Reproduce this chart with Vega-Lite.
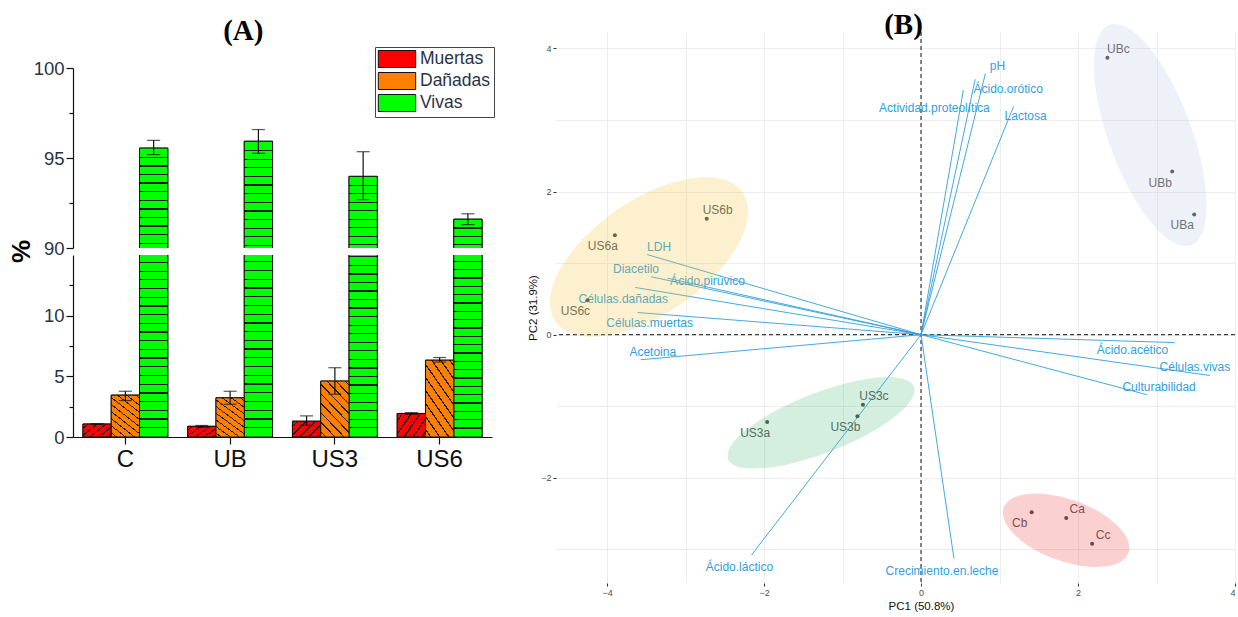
{
  "$schema": "https://vega.github.io/schema/vega-lite/v6.json",
  "padding": {"left": 8, "top": 10, "right": 0, "bottom": 0},
  "background": "white",
  "config": {"view": {"stroke": null}, "font": "Liberation Sans"},
  "spacing": 32,
  "resolve": {"scale": {"color": "independent"}},
  "datasets": {
    "celulas": [
      {"grupo": "C", "tipo": "Muertas", "valor": 1.07, "lo": 1.03, "hi": 1.1},
      {"grupo": "C", "tipo": "Dañadas", "valor": 3.45, "lo": 3.0, "hi": 3.77},
      {"grupo": "C", "tipo": "Vivas", "valor": 95.55, "lo": 95.19, "hi": 95.98},
      {"grupo": "UB", "tipo": "Muertas", "valor": 0.88, "lo": 0.8, "hi": 0.95},
      {"grupo": "UB", "tipo": "Dañadas", "valor": 3.23, "lo": 2.7, "hi": 3.77},
      {"grupo": "UB", "tipo": "Vivas", "valor": 95.93, "lo": 95.26, "hi": 96.58},
      {"grupo": "US3", "tipo": "Muertas", "valor": 1.3, "lo": 0.97, "hi": 1.74},
      {"grupo": "US3", "tipo": "Dañadas", "valor": 4.61, "lo": 3.53, "hi": 5.71},
      {"grupo": "US3", "tipo": "Vivas", "valor": 93.98, "lo": 92.69, "hi": 95.35},
      {"grupo": "US6", "tipo": "Muertas", "valor": 1.94, "lo": 1.87, "hi": 2.01},
      {"grupo": "US6", "tipo": "Dañadas", "valor": 6.33, "lo": 6.18, "hi": 6.55},
      {"grupo": "US6", "tipo": "Vivas", "valor": 91.6, "lo": 91.3, "hi": 91.9}
    ],
    "individuos": [
      {"nombre": "US6a", "grupo": "US6", "x": -3.90, "y": 1.39},
      {"nombre": "US6b", "grupo": "US6", "x": -2.73, "y": 1.62},
      {"nombre": "US6c", "grupo": "US6", "x": -4.25, "y": 0.48},
      {"nombre": "UBa", "grupo": "UB", "x": 3.48, "y": 1.68},
      {"nombre": "UBb", "grupo": "UB", "x": 3.20, "y": 2.28},
      {"nombre": "UBc", "grupo": "UB", "x": 2.375, "y": 3.87},
      {"nombre": "US3a", "grupo": "US3", "x": -1.96, "y": -1.22},
      {"nombre": "US3b", "grupo": "US3", "x": -0.81, "y": -1.14},
      {"nombre": "US3c", "grupo": "US3", "x": -0.74, "y": -0.98},
      {"nombre": "Ca", "grupo": "C", "x": 1.85, "y": -2.56},
      {"nombre": "Cb", "grupo": "C", "x": 1.41, "y": -2.48},
      {"nombre": "Cc", "grupo": "C", "x": 2.18, "y": -2.92}
    ],
    "variables": [
      {"nombre": "LDH", "x": -3.49, "y": 1.12},
      {"nombre": "Diacetilo", "x": -3.44, "y": 0.81},
      {"nombre": "Ácido.pirúvico", "x": -3.23, "y": 0.79},
      {"nombre": "Células.dañadas", "x": -3.64, "y": 0.66},
      {"nombre": "Células.muertas", "x": -3.61, "y": 0.31},
      {"nombre": "Acetoina", "x": -3.57, "y": -0.35},
      {"nombre": "Ácido.láctico", "x": -2.16, "y": -3.08},
      {"nombre": "Crecimiento.en.leche", "x": 0.42, "y": -3.13},
      {"nombre": "Ácido.acético", "x": 3.23, "y": -0.11},
      {"nombre": "Células.vivas", "x": 3.68, "y": -0.57},
      {"nombre": "Culturabilidad", "x": 2.88, "y": -0.84},
      {"nombre": "pH", "x": 0.82, "y": 3.65},
      {"nombre": "Ácido.orótico", "x": 0.69, "y": 3.57},
      {"nombre": "Actividad.proteolítica", "x": 0.54, "y": 3.42},
      {"nombre": "Lactosa", "x": 1.18, "y": 3.19}
    ],
    "elipses": [
      {"grupo": "US6", "x": -2.270, "y": 1.987}, {"grupo": "US6", "x": -2.635, "y": 2.196}, {"grupo": "US6", "x": -3.223, "y": 2.105}, {"grupo": "US6", "x": -3.875, "y": 1.743}, {"grupo": "US6", "x": -4.417, "y": 1.204}, {"grupo": "US6", "x": -4.705, "y": 0.634}, {"grupo": "US6", "x": -4.659, "y": 0.186}, {"grupo": "US6", "x": -4.294, "y": -0.022}, {"grupo": "US6", "x": -3.706, "y": 0.067}, {"grupo": "US6", "x": -3.053, "y": 0.430}, {"grupo": "US6", "x": -2.511, "y": 0.968}, {"grupo": "US6", "x": -2.224, "y": 1.539},
      {"grupo": "UB", "x": 3.440, "y": 1.250}, {"grupo": "UB", "x": 3.618, "y": 1.557}, {"grupo": "UB", "x": 3.608, "y": 2.194}, {"grupo": "UB", "x": 3.415, "y": 2.992}, {"grupo": "UB", "x": 3.088, "y": 3.735}, {"grupo": "UB", "x": 2.716, "y": 4.225}, {"grupo": "UB", "x": 2.399, "y": 4.331}, {"grupo": "UB", "x": 2.221, "y": 4.024}, {"grupo": "UB", "x": 2.232, "y": 3.387}, {"grupo": "UB", "x": 2.425, "y": 2.589}, {"grupo": "UB", "x": 2.752, "y": 1.846}, {"grupo": "UB", "x": 3.123, "y": 1.356},
      {"grupo": "US3", "x": -0.088, "y": -0.725}, {"grupo": "US3", "x": -0.316, "y": -0.598}, {"grupo": "US3", "x": -0.800, "y": -0.640}, {"grupo": "US3", "x": -1.411, "y": -0.841}, {"grupo": "US3", "x": -1.985, "y": -1.147}, {"grupo": "US3", "x": -2.368, "y": -1.475}, {"grupo": "US3", "x": -2.457, "y": -1.739}, {"grupo": "US3", "x": -2.229, "y": -1.866}, {"grupo": "US3", "x": -1.744, "y": -1.824}, {"grupo": "US3", "x": -1.134, "y": -1.623}, {"grupo": "US3", "x": -0.560, "y": -1.317}, {"grupo": "US3", "x": -0.177, "y": -0.989},
      {"grupo": "C", "x": 2.644, "y": -3.047}, {"grupo": "C", "x": 2.603, "y": -2.803}, {"grupo": "C", "x": 2.361, "y": -2.539}, {"grupo": "C", "x": 1.981, "y": -2.328}, {"grupo": "C", "x": 1.565, "y": -2.225}, {"grupo": "C", "x": 1.226, "y": -2.259}, {"grupo": "C", "x": 1.053, "y": -2.419}, {"grupo": "C", "x": 1.094, "y": -2.663}, {"grupo": "C", "x": 1.336, "y": -2.927}, {"grupo": "C", "x": 1.716, "y": -3.138}, {"grupo": "C", "x": 2.132, "y": -3.242}, {"grupo": "C", "x": 2.471, "y": -3.208}
    ]
  },
  "hconcat": [
    {
      "title": {"text": "(A)", "font": "Liberation Serif", "fontSize": 29, "fontWeight": "bold", "color": "black", "anchor": "middle", "baseline": "bottom", "offset": -43, "dx": -8},
      "data": {"name": "celulas"},
      "spacing": 7,
      "bounds": "flush",
      "resolve": {"scale": {"y": "independent"}, "legend": {"color": "independent"}},
      "vconcat": [
        {
          "width": 419,
          "height": 216,
          "encoding": {
            "x": {"field": "grupo", "type": "nominal", "sort": ["C", "UB", "US3", "US6"], "scale": {"paddingInner": 0.19, "paddingOuter": 0.095}, "axis": null},
            "xOffset": {"field": "tipo", "type": "nominal", "scale": {"domain": ["Muertas", "Dañadas", "Vivas"], "paddingInner": 0, "paddingOuter": 0}},
            "y": {"field": "valor", "type": "quantitative", "stack": null, "scale": {"domain": [90, 100], "range": [216, 36], "nice": false, "zero": false},
              "axis": {"title": "%", "titleFontSize": 26, "titleFontWeight": "bold", "titleColor": "black", "titleAngle": 270, "titleX": -52, "titleY": 219, "titleAlign": "center", "titleBaseline": "middle",
                "values": [90, 92.5, 95, 97.5, 100], "labelExpr": "datum.value % 5 === 0 ? datum.label : ''",
                "tickSize": {"condition": {"test": "datum.value % 5 === 0", "value": 7}, "value": 4},
                "labelFontSize": 18.5, "labelColor": "#2a3346", "labelPadding": 2, "domainColor": "#111", "tickColor": "#111", "domainWidth": 1.2, "tickWidth": 1.2, "grid": false}}
          },
          "layer": [
            {
              "transform": [{"filter": "datum.tipo === 'Vivas'"}],
              "mark": {"type": "bar", "clip": true, "stroke": "#111", "strokeWidth": 1},
              "encoding": {
                "y2": {"datum": 0},
                "color": {"field": "tipo", "type": "nominal", "scale": {"domain": ["Muertas", "Dañadas", "Vivas"], "range": ["#ff0000", "#ff8000", "#00ff00"]},
                  "legend": {"title": null, "orient": "none", "legendX": 302, "legendY": 15, "symbolType": "M-2.2,-1H2.2V1H-2.2Z", "symbolSize": 289, "symbolOffset": 10, "symbolStrokeColor": "#111", "symbolStrokeWidth": 1, "symbolOpacity": 1, "labelFontSize": 17.5, "labelColor": "#2a3346", "labelOffset": 14, "strokeColor": "#444", "padding": 3, "rowPadding": 0, "labelFont": "Liberation Sans"}}
              }
            },
            {
              "transform": [{"filter": "datum.tipo === 'Vivas'"}],
              "mark": {"type": "bar", "clip": true, "stroke": "#111", "strokeWidth": 1,
                "fill": {"gradient": "linear", "x1": 0, "y1": 0, "x2": 0, "y2": 1, "stops": [
                  {"offset": 0, "color": "#00ff00"},
                  {"offset": 0.005, "color": "#00ff00"}, {"offset": 0.005, "color": "#1a1a1a"}, {"offset": 0.0057, "color": "#1a1a1a"}, {"offset": 0.0057, "color": "#00ff00"},
                  {"offset": 0.010, "color": "#00ff00"}, {"offset": 0.010, "color": "#1a1a1a"}, {"offset": 0.0107, "color": "#1a1a1a"}, {"offset": 0.0107, "color": "#00ff00"},
                  {"offset": 0.015, "color": "#00ff00"}, {"offset": 0.015, "color": "#1a1a1a"}, {"offset": 0.0157, "color": "#1a1a1a"}, {"offset": 0.0157, "color": "#00ff00"},
                  {"offset": 0.020, "color": "#00ff00"}, {"offset": 0.020, "color": "#1a1a1a"}, {"offset": 0.0207, "color": "#1a1a1a"}, {"offset": 0.0207, "color": "#00ff00"},
                  {"offset": 0.025, "color": "#00ff00"}, {"offset": 0.025, "color": "#1a1a1a"}, {"offset": 0.0257, "color": "#1a1a1a"}, {"offset": 0.0257, "color": "#00ff00"},
                  {"offset": 0.030, "color": "#00ff00"}, {"offset": 0.030, "color": "#1a1a1a"}, {"offset": 0.0307, "color": "#1a1a1a"}, {"offset": 0.0307, "color": "#00ff00"},
                  {"offset": 0.035, "color": "#00ff00"}, {"offset": 0.035, "color": "#1a1a1a"}, {"offset": 0.0357, "color": "#1a1a1a"}, {"offset": 0.0357, "color": "#00ff00"},
                  {"offset": 0.040, "color": "#00ff00"}, {"offset": 0.040, "color": "#1a1a1a"}, {"offset": 0.0407, "color": "#1a1a1a"}, {"offset": 0.0407, "color": "#00ff00"},
                  {"offset": 0.045, "color": "#00ff00"}, {"offset": 0.045, "color": "#1a1a1a"}, {"offset": 0.0457, "color": "#1a1a1a"}, {"offset": 0.0457, "color": "#00ff00"},
                  {"offset": 0.050, "color": "#00ff00"}, {"offset": 0.050, "color": "#1a1a1a"}, {"offset": 0.0507, "color": "#1a1a1a"}, {"offset": 0.0507, "color": "#00ff00"},
                  {"offset": 0.055, "color": "#00ff00"}, {"offset": 0.055, "color": "#1a1a1a"}, {"offset": 0.0557, "color": "#1a1a1a"}, {"offset": 0.0557, "color": "#00ff00"},
                  {"offset": 0.060, "color": "#00ff00"}, {"offset": 0.060, "color": "#1a1a1a"}, {"offset": 0.0607, "color": "#1a1a1a"}, {"offset": 0.0607, "color": "#00ff00"},
                  {"offset": 0.065, "color": "#00ff00"}, {"offset": 0.065, "color": "#1a1a1a"}, {"offset": 0.0657, "color": "#1a1a1a"}, {"offset": 0.0657, "color": "#00ff00"},
                  {"offset": 1, "color": "#00ff00"}
                ]}},
              "encoding": {"y2": {"datum": 0}}
            },
            {
              "transform": [{"filter": "datum.tipo === 'Vivas'"}],
              "mark": {"type": "rule", "clip": true, "color": "#111", "strokeWidth": 1.2},
              "encoding": {"y": {"field": "lo", "type": "quantitative"}, "y2": {"field": "hi"}}
            },
            {
              "transform": [{"filter": "datum.tipo === 'Vivas'"}],
              "mark": {"type": "tick", "clip": true, "color": "#111", "thickness": 1.2, "size": 13},
              "encoding": {"y": {"field": "lo", "type": "quantitative"}}
            },
            {
              "transform": [{"filter": "datum.tipo === 'Vivas'"}],
              "mark": {"type": "tick", "clip": true, "color": "#111", "thickness": 1.2, "size": 13},
              "encoding": {"y": {"field": "hi", "type": "quantitative"}}
            }
          ]
        },
        {
          "width": 419,
          "height": 182,
          "encoding": {
            "x": {"field": "grupo", "type": "nominal", "sort": ["C", "UB", "US3", "US6"], "scale": {"paddingInner": 0.19, "paddingOuter": 0.095},
              "axis": {"title": null, "labelAngle": 0, "labelFontSize": 24, "labelColor": "#111", "tickSize": 7, "tickColor": "#111", "tickWidth": 1.2, "domainColor": "#111", "domainWidth": 1.2, "labelPadding": 3}},
            "xOffset": {"field": "tipo", "type": "nominal", "scale": {"domain": ["Muertas", "Dañadas", "Vivas"], "paddingInner": 0, "paddingOuter": 0}},
            "y": {"field": "valor", "type": "quantitative", "stack": null, "scale": {"domain": [0, 15], "nice": false},
              "axis": {"title": null, "values": [0, 2.5, 5, 7.5, 10, 12.5], "labelExpr": "datum.value % 5 === 0 ? datum.label : ''",
                "tickSize": {"condition": {"test": "datum.value % 5 === 0", "value": 7}, "value": 4},
                "labelFontSize": 18.5, "labelColor": "#2a3346", "labelPadding": 2, "domainColor": "#111", "tickColor": "#111", "domainWidth": 1.2, "tickWidth": 1.2, "grid": false}}
          },
          "layer": [
            {
              "mark": {"type": "bar", "clip": true, "stroke": "#111", "strokeWidth": 1},
              "encoding": {
                "y2": {"datum": 0},
                "color": {"field": "tipo", "type": "nominal", "scale": {"domain": ["Muertas", "Dañadas", "Vivas"], "range": ["#ff0000", "#ff8000", "#00ff00"]}, "legend": null}
              }
            },
            {
              "transform": [{"filter": "datum.tipo === 'Vivas'"}],
              "mark": {"type": "bar", "clip": true, "stroke": "#111", "strokeWidth": 1,
                "fill": {"gradient": "linear", "x1": 0, "y1": 1, "x2": 0, "y2": 0, "stops": [
                  {"offset": 0, "color": "#00ff00"},
                  {"offset": 0.0075, "color": "#00ff00"}, {"offset": 0.0075, "color": "#1a1a1a"}, {"offset": 0.0086, "color": "#1a1a1a"}, {"offset": 0.0086, "color": "#00ff00"},
                  {"offset": 0.0150, "color": "#00ff00"}, {"offset": 0.0150, "color": "#1a1a1a"}, {"offset": 0.0161, "color": "#1a1a1a"}, {"offset": 0.0161, "color": "#00ff00"},
                  {"offset": 0.0225, "color": "#00ff00"}, {"offset": 0.0225, "color": "#1a1a1a"}, {"offset": 0.0236, "color": "#1a1a1a"}, {"offset": 0.0236, "color": "#00ff00"},
                  {"offset": 0.0300, "color": "#00ff00"}, {"offset": 0.0300, "color": "#1a1a1a"}, {"offset": 0.0311, "color": "#1a1a1a"}, {"offset": 0.0311, "color": "#00ff00"},
                  {"offset": 0.0375, "color": "#00ff00"}, {"offset": 0.0375, "color": "#1a1a1a"}, {"offset": 0.0386, "color": "#1a1a1a"}, {"offset": 0.0386, "color": "#00ff00"},
                  {"offset": 0.0450, "color": "#00ff00"}, {"offset": 0.0450, "color": "#1a1a1a"}, {"offset": 0.0461, "color": "#1a1a1a"}, {"offset": 0.0461, "color": "#00ff00"},
                  {"offset": 0.0525, "color": "#00ff00"}, {"offset": 0.0525, "color": "#1a1a1a"}, {"offset": 0.0536, "color": "#1a1a1a"}, {"offset": 0.0536, "color": "#00ff00"},
                  {"offset": 0.0600, "color": "#00ff00"}, {"offset": 0.0600, "color": "#1a1a1a"}, {"offset": 0.0611, "color": "#1a1a1a"}, {"offset": 0.0611, "color": "#00ff00"},
                  {"offset": 0.0675, "color": "#00ff00"}, {"offset": 0.0675, "color": "#1a1a1a"}, {"offset": 0.0686, "color": "#1a1a1a"}, {"offset": 0.0686, "color": "#00ff00"},
                  {"offset": 0.0750, "color": "#00ff00"}, {"offset": 0.0750, "color": "#1a1a1a"}, {"offset": 0.0761, "color": "#1a1a1a"}, {"offset": 0.0761, "color": "#00ff00"},
                  {"offset": 0.0825, "color": "#00ff00"}, {"offset": 0.0825, "color": "#1a1a1a"}, {"offset": 0.0836, "color": "#1a1a1a"}, {"offset": 0.0836, "color": "#00ff00"},
                  {"offset": 0.0900, "color": "#00ff00"}, {"offset": 0.0900, "color": "#1a1a1a"}, {"offset": 0.0911, "color": "#1a1a1a"}, {"offset": 0.0911, "color": "#00ff00"},
                  {"offset": 0.0975, "color": "#00ff00"}, {"offset": 0.0975, "color": "#1a1a1a"}, {"offset": 0.0986, "color": "#1a1a1a"}, {"offset": 0.0986, "color": "#00ff00"},
                  {"offset": 0.1050, "color": "#00ff00"}, {"offset": 0.1050, "color": "#1a1a1a"}, {"offset": 0.1061, "color": "#1a1a1a"}, {"offset": 0.1061, "color": "#00ff00"},
                  {"offset": 0.1125, "color": "#00ff00"}, {"offset": 0.1125, "color": "#1a1a1a"}, {"offset": 0.1136, "color": "#1a1a1a"}, {"offset": 0.1136, "color": "#00ff00"},
                  {"offset": 0.1200, "color": "#00ff00"}, {"offset": 0.1200, "color": "#1a1a1a"}, {"offset": 0.1211, "color": "#1a1a1a"}, {"offset": 0.1211, "color": "#00ff00"},
                  {"offset": 0.1275, "color": "#00ff00"}, {"offset": 0.1275, "color": "#1a1a1a"}, {"offset": 0.1286, "color": "#1a1a1a"}, {"offset": 0.1286, "color": "#00ff00"},
                  {"offset": 0.1350, "color": "#00ff00"}, {"offset": 0.1350, "color": "#1a1a1a"}, {"offset": 0.1361, "color": "#1a1a1a"}, {"offset": 0.1361, "color": "#00ff00"},
                  {"offset": 0.1425, "color": "#00ff00"}, {"offset": 0.1425, "color": "#1a1a1a"}, {"offset": 0.1436, "color": "#1a1a1a"}, {"offset": 0.1436, "color": "#00ff00"},
                  {"offset": 0.1500, "color": "#00ff00"}, {"offset": 0.1500, "color": "#1a1a1a"}, {"offset": 0.1511, "color": "#1a1a1a"}, {"offset": 0.1511, "color": "#00ff00"},
                  {"offset": 0.1575, "color": "#00ff00"}, {"offset": 0.1575, "color": "#1a1a1a"}, {"offset": 0.1586, "color": "#1a1a1a"}, {"offset": 0.1586, "color": "#00ff00"},
                  {"offset": 0.1650, "color": "#00ff00"}, {"offset": 0.1650, "color": "#1a1a1a"}, {"offset": 0.1661, "color": "#1a1a1a"}, {"offset": 0.1661, "color": "#00ff00"},
                  {"offset": 1, "color": "#00ff00"}
                ]}},
              "encoding": {"y2": {"datum": 0}}
            },
            {
              "transform": [{"filter": "datum.tipo === 'Muertas'"}],
              "mark": {"type": "bar", "clip": true, "stroke": "#111", "strokeWidth": 1,
                "fill": {"gradient": "linear", "x1": 0, "y1": 0, "x2": 1.185, "y2": 0.677, "stops": [
                  {"offset": 0, "color": "#ff0000"},
                  {"offset": 0.1, "color": "#ff0000"}, {"offset": 0.1, "color": "#1a1a1a"}, {"offset": 0.135, "color": "#1a1a1a"}, {"offset": 0.135, "color": "#ff0000"},
                  {"offset": 0.3, "color": "#ff0000"}, {"offset": 0.3, "color": "#1a1a1a"}, {"offset": 0.335, "color": "#1a1a1a"}, {"offset": 0.335, "color": "#ff0000"},
                  {"offset": 0.5, "color": "#ff0000"}, {"offset": 0.5, "color": "#1a1a1a"}, {"offset": 0.535, "color": "#1a1a1a"}, {"offset": 0.535, "color": "#ff0000"},
                  {"offset": 0.7, "color": "#ff0000"}, {"offset": 0.7, "color": "#1a1a1a"}, {"offset": 0.735, "color": "#1a1a1a"}, {"offset": 0.735, "color": "#ff0000"},
                  {"offset": 0.9, "color": "#ff0000"}, {"offset": 0.9, "color": "#1a1a1a"}, {"offset": 0.935, "color": "#1a1a1a"}, {"offset": 0.935, "color": "#ff0000"},
                  {"offset": 1, "color": "#ff0000"}
                ]}},
              "encoding": {"y2": {"datum": 0}}
            },
            {
              "transform": [{"filter": "datum.tipo === 'Dañadas'"}],
              "mark": {"type": "bar", "clip": true, "stroke": "#111", "strokeWidth": 1,
                "fill": {"gradient": "linear", "x1": 0, "y1": 1, "x2": 0.631, "y2": -0.195, "stops": [
                  {"offset": 0, "color": "#ff8000"},
                  {"offset": 0.055, "color": "#ff8000"}, {"offset": 0.055, "color": "#1a1a1a"}, {"offset": 0.073, "color": "#1a1a1a"}, {"offset": 0.073, "color": "#ff8000"},
                  {"offset": 0.166, "color": "#ff8000"}, {"offset": 0.166, "color": "#1a1a1a"}, {"offset": 0.184, "color": "#1a1a1a"}, {"offset": 0.184, "color": "#ff8000"},
                  {"offset": 0.277, "color": "#ff8000"}, {"offset": 0.277, "color": "#1a1a1a"}, {"offset": 0.295, "color": "#1a1a1a"}, {"offset": 0.295, "color": "#ff8000"},
                  {"offset": 0.388, "color": "#ff8000"}, {"offset": 0.388, "color": "#1a1a1a"}, {"offset": 0.406, "color": "#1a1a1a"}, {"offset": 0.406, "color": "#ff8000"},
                  {"offset": 0.499, "color": "#ff8000"}, {"offset": 0.499, "color": "#1a1a1a"}, {"offset": 0.517, "color": "#1a1a1a"}, {"offset": 0.517, "color": "#ff8000"},
                  {"offset": 0.610, "color": "#ff8000"}, {"offset": 0.610, "color": "#1a1a1a"}, {"offset": 0.628, "color": "#1a1a1a"}, {"offset": 0.628, "color": "#ff8000"},
                  {"offset": 0.721, "color": "#ff8000"}, {"offset": 0.721, "color": "#1a1a1a"}, {"offset": 0.739, "color": "#1a1a1a"}, {"offset": 0.739, "color": "#ff8000"},
                  {"offset": 0.832, "color": "#ff8000"}, {"offset": 0.832, "color": "#1a1a1a"}, {"offset": 0.850, "color": "#1a1a1a"}, {"offset": 0.850, "color": "#ff8000"},
                  {"offset": 0.943, "color": "#ff8000"}, {"offset": 0.943, "color": "#1a1a1a"}, {"offset": 0.961, "color": "#1a1a1a"}, {"offset": 0.961, "color": "#ff8000"},
                  {"offset": 1, "color": "#ff8000"}
                ]}},
              "encoding": {"y2": {"datum": 0}}
            },
            {
              "transform": [{"filter": "datum.tipo !== 'Vivas'"}],
              "mark": {"type": "rule", "clip": true, "color": "#111", "strokeWidth": 1.2},
              "encoding": {"y": {"field": "lo", "type": "quantitative"}, "y2": {"field": "hi"}}
            },
            {
              "transform": [{"filter": "datum.tipo !== 'Vivas'"}],
              "mark": {"type": "tick", "clip": true, "color": "#111", "thickness": 1.2, "size": 13},
              "encoding": {"y": {"field": "lo", "type": "quantitative"}}
            },
            {
              "transform": [{"filter": "datum.tipo !== 'Vivas'"}],
              "mark": {"type": "tick", "clip": true, "color": "#111", "thickness": 1.2, "size": 13},
              "encoding": {"y": {"field": "hi", "type": "quantitative"}}
            }
          ]
        }
      ]
    },
    {
      "title": {"text": "(B)", "font": "Liberation Serif", "fontSize": 29, "fontWeight": "bold", "color": "black", "anchor": "middle", "baseline": "bottom", "offset": -45, "dx": 8},
      "width": 679,
      "height": 551,
      "layer": [
        {
          "data": {"name": "individuos"},
          "transform": [{"aggregate": [{"op": "count", "as": "n"}]}],
          "mark": {"type": "rule", "color": "#111", "strokeDash": [4, 3], "strokeWidth": 1},
          "encoding": {"x": {"datum": 0, "type": "quantitative"}}
        },
        {
          "data": {"name": "individuos"},
          "transform": [{"aggregate": [{"op": "count", "as": "n"}]}],
          "mark": {"type": "rule", "color": "#111", "strokeDash": [4, 3], "strokeWidth": 1},
          "encoding": {"y": {"datum": 0, "type": "quantitative"}}
        },
        {
          "data": {"name": "variables"},
          "mark": {"type": "rule", "color": "#2E9FDF", "strokeWidth": 0.9},
          "encoding": {
            "x": {"field": "x", "type": "quantitative", "scale": {"domain": [-4.65, 4.0], "nice": false, "zero": false},
              "axis": {"title": "PC1 (50.8%)", "titleX": 365, "titleAlign": "center", "values": [-4, -3, -2, -1, 0, 1, 2, 3, 4], "format": "d", "labelExpr": "datum.value % 2 === 0 ? datum.label : ''",
                "tickOpacity": {"condition": {"test": "datum.value % 2 === 0", "value": 1}, "value": 0},
                "grid": true, "gridColor": "#ebebeb", "gridWidth": 0.9, "domain": false, "tickSize": 3, "tickColor": "#333", "labelFontSize": 9, "labelColor": "#4d4d4d", "labelPadding": 2,
                "titleFontSize": 11.5, "titleFontWeight": "normal", "titleColor": "#111", "titlePadding": 3, "labelFlush": true}},
            "y": {"field": "y", "type": "quantitative", "scale": {"domain": [-3.47, 4.23], "nice": false, "zero": false},
              "axis": {"title": "PC2 (31.9%)", "values": [-3, -2, -1, 0, 1, 2, 3, 4], "format": "d", "labelExpr": "datum.value % 2 === 0 ? datum.label : ''",
                "tickOpacity": {"condition": {"test": "datum.value % 2 === 0", "value": 1}, "value": 0},
                "grid": true, "gridColor": "#ebebeb", "gridWidth": 0.9, "domain": false, "tickSize": 3, "tickColor": "#333", "labelFontSize": 9, "labelColor": "#4d4d4d", "labelPadding": 2,
                "titleFontSize": 11.5, "titleFontWeight": "normal", "titleColor": "#111", "titlePadding": 2}},
            "x2": {"datum": 0},
            "y2": {"datum": 0}
          }
        },
        {
          "data": {"name": "variables"},
          "transform": [{"filter": "indexof(['LDH','Acetoina','Culturabilidad','pH'], datum.nombre) >= 0"}],
          "mark": {"type": "text", "dx": 12, "dy": -8, "fontSize": 12, "color": "#2E9FDF"},
          "encoding": {"x": {"field": "x", "type": "quantitative"}, "y": {"field": "y", "type": "quantitative"}, "text": {"field": "nombre"}}
        },
        {
          "data": {"name": "variables"},
          "transform": [{"filter": "indexof(['Células.dañadas','Ácido.láctico','Crecimiento.en.leche'], datum.nombre) >= 0"}],
          "mark": {"type": "text", "dx": -12, "dy": 12, "fontSize": 12, "color": "#2E9FDF"},
          "encoding": {"x": {"field": "x", "type": "quantitative"}, "y": {"field": "y", "type": "quantitative"}, "text": {"field": "nombre"}}
        },
        {
          "data": {"name": "variables"},
          "transform": [{"filter": "indexof(['Diacetilo','Células.vivas'], datum.nombre) >= 0"}],
          "mark": {"type": "text", "dx": -15, "dy": -8, "fontSize": 12, "color": "#2E9FDF"},
          "encoding": {"x": {"field": "x", "type": "quantitative"}, "y": {"field": "y", "type": "quantitative"}, "text": {"field": "nombre"}}
        },
        {
          "data": {"name": "variables"},
          "transform": [{"filter": "indexof(['Células.muertas','Lactosa'], datum.nombre) >= 0"}],
          "mark": {"type": "text", "dx": 12, "dy": 10, "fontSize": 12, "color": "#2E9FDF"},
          "encoding": {"x": {"field": "x", "type": "quantitative"}, "y": {"field": "y", "type": "quantitative"}, "text": {"field": "nombre"}}
        },
        {
          "data": {"name": "variables"},
          "transform": [{"filter": "datum.nombre === 'Ácido.pirúvico'"}],
          "mark": {"type": "text", "dx": 40, "dy": 3, "fontSize": 12, "color": "#2E9FDF"},
          "encoding": {"x": {"field": "x", "type": "quantitative"}, "y": {"field": "y", "type": "quantitative"}, "text": {"field": "nombre"}}
        },
        {
          "data": {"name": "variables"},
          "transform": [{"filter": "datum.nombre === 'Ácido.acético'"}],
          "mark": {"type": "text", "dx": -42, "dy": 7, "fontSize": 12, "color": "#2E9FDF"},
          "encoding": {"x": {"field": "x", "type": "quantitative"}, "y": {"field": "y", "type": "quantitative"}, "text": {"field": "nombre"}}
        },
        {
          "data": {"name": "variables"},
          "transform": [{"filter": "datum.nombre === 'Ácido.orótico'"}],
          "mark": {"type": "text", "dx": 33, "dy": 10, "fontSize": 12, "color": "#2E9FDF"},
          "encoding": {"x": {"field": "x", "type": "quantitative"}, "y": {"field": "y", "type": "quantitative"}, "text": {"field": "nombre"}}
        },
        {
          "data": {"name": "variables"},
          "transform": [{"filter": "datum.nombre === 'Actividad.proteolítica'"}],
          "mark": {"type": "text", "dx": -29, "dy": 18, "fontSize": 12, "color": "#2E9FDF"},
          "encoding": {"x": {"field": "x", "type": "quantitative"}, "y": {"field": "y", "type": "quantitative"}, "text": {"field": "nombre"}}
        },
        {
          "data": {"name": "individuos"},
          "mark": {"type": "point", "filled": true, "size": 16, "color": "#444", "opacity": 1},
          "encoding": {"x": {"field": "x", "type": "quantitative"}, "y": {"field": "y", "type": "quantitative"}}
        },
        {
          "data": {"name": "individuos"},
          "transform": [{"filter": "indexof(['US6b','UBc','US3c','Ca','Cc'], datum.nombre) >= 0"}],
          "mark": {"type": "text", "dx": 11, "dy": -9, "fontSize": 12, "color": "#555"},
          "encoding": {"x": {"field": "x", "type": "quantitative"}, "y": {"field": "y", "type": "quantitative"}, "text": {"field": "nombre"}}
        },
        {
          "data": {"name": "individuos"},
          "transform": [{"filter": "indexof(['US6b','UBc','US3c','Ca','Cc'], datum.nombre) < 0"}],
          "mark": {"type": "text", "dx": -12, "dy": 11, "fontSize": 12, "color": "#555"},
          "encoding": {"x": {"field": "x", "type": "quantitative"}, "y": {"field": "y", "type": "quantitative"}, "text": {"field": "nombre"}}
        },
        {
          "data": {"name": "elipses"},
          "transform": [{"filter": "datum.grupo === 'US6'"}],
          "mark": {"type": "line", "interpolate": "cardinal-closed", "fill": "#f3c33f", "fillOpacity": 0.25, "strokeOpacity": 0},
          "encoding": {"x": {"field": "x", "type": "quantitative"}, "y": {"field": "y", "type": "quantitative"}, "order": {"value": null}}
        },
        {
          "data": {"name": "elipses"},
          "transform": [{"filter": "datum.grupo === 'UB'"}],
          "mark": {"type": "line", "interpolate": "cardinal-closed", "fill": "#bbc7e3", "fillOpacity": 0.25, "strokeOpacity": 0},
          "encoding": {"x": {"field": "x", "type": "quantitative"}, "y": {"field": "y", "type": "quantitative"}, "order": {"value": null}}
        },
        {
          "data": {"name": "elipses"},
          "transform": [{"filter": "datum.grupo === 'US3'"}],
          "mark": {"type": "line", "interpolate": "cardinal-closed", "fill": "#53bb7f", "fillOpacity": 0.25, "strokeOpacity": 0},
          "encoding": {"x": {"field": "x", "type": "quantitative"}, "y": {"field": "y", "type": "quantitative"}, "order": {"value": null}}
        },
        {
          "data": {"name": "elipses"},
          "transform": [{"filter": "datum.grupo === 'C'"}],
          "mark": {"type": "line", "interpolate": "cardinal-closed", "fill": "#ef4343", "fillOpacity": 0.25, "strokeOpacity": 0},
          "encoding": {"x": {"field": "x", "type": "quantitative"}, "y": {"field": "y", "type": "quantitative"}, "order": {"value": null}}
        }
      ]
    }
  ]
}
